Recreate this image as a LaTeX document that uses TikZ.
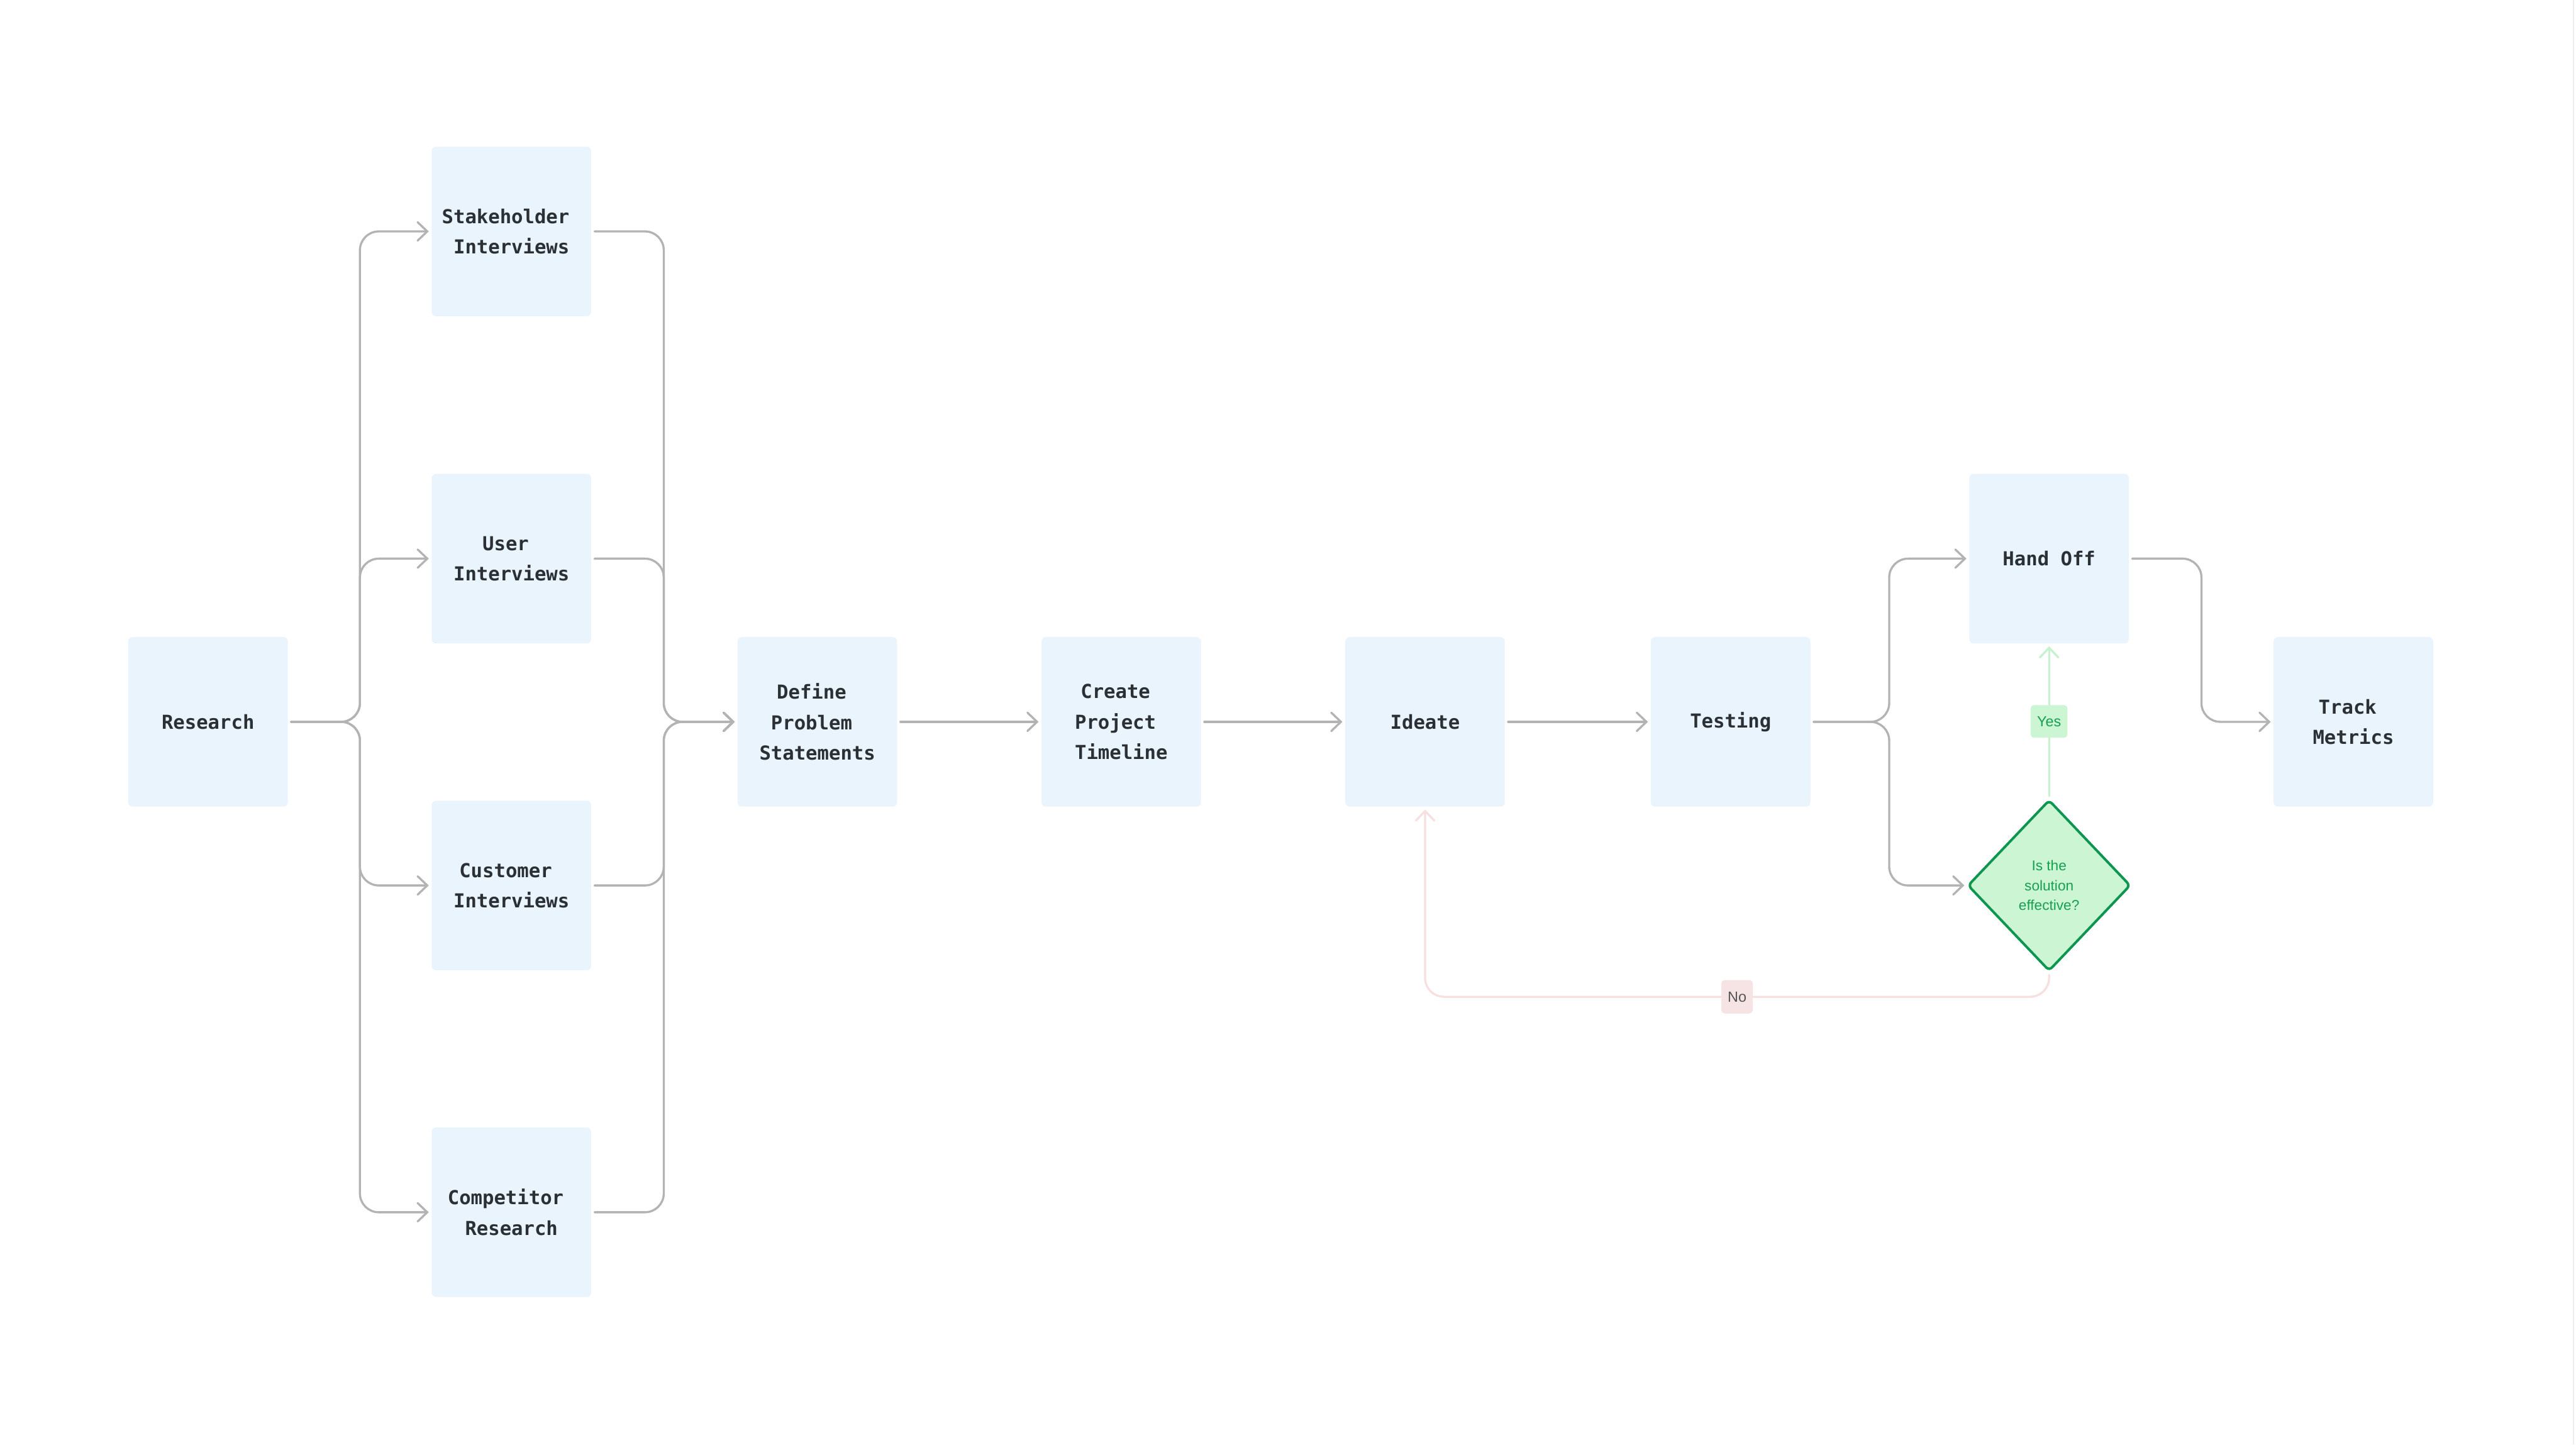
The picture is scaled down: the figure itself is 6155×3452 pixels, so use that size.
\documentclass[tikz,border=0pt]{standalone}
\usepackage{fontspec}
\setmonofont{DejaVu Sans Mono}
\setsansfont{Liberation Sans}
\usetikzlibrary{arrows.meta,shapes.geometric,calc}
\definecolor{boxfill}{HTML}{EAF4FD}
\definecolor{boxtext}{HTML}{2B3035}
\definecolor{connc}{HTML}{B3B3B3}
\definecolor{yesline}{HTML}{C6F2CE}
\definecolor{yesfill}{HTML}{CCF5D4}
\definecolor{yestext}{HTML}{16A050}
\definecolor{diadraw}{HTML}{0E9650}
\definecolor{noline}{HTML}{F6E0E0}
\definecolor{nofill}{HTML}{F6E4E4}
\definecolor{notext}{HTML}{555555}
\newcommand\trsp{\hphantom{x}}
\begin{document}
\begin{tikzpicture}[x=0.1pt,y=-0.1pt,
  procbox/.style={fill=boxfill, rounded corners=1pt, minimum width=38.1pt, minimum height=40.5pt,
    inner sep=0pt, align=center, text=boxtext,
    font=\ttfamily\bfseries\fontsize{4.6}{7.3}\selectfont},
  tip/.style={-{Straight Barb[length=2.3pt,width=4.4pt,line cap=round]}},
  conn/.style={draw=connc, line width=0.5pt, rounded corners=4.5pt, line cap=round,
    shorten <=0.6pt, shorten >=0.5pt, tip},
  yesconn/.style={conn, draw=yesline},
  noconn/.style={conn, draw=noline},
  lab/.style={rounded corners=0.8pt, inner sep=0pt, font=\sffamily\fontsize{3.5}{4.2}\selectfont},
  yeslab/.style={lab, fill=yesfill, text=yestext, minimum width=8.8pt, minimum height=7.8pt},
  nolab/.style={lab, fill=nofill, text=notext, minimum width=7.5pt, minimum height=8pt},
  decision/.style={diamond, draw=diadraw, fill=yesfill, line width=0.6pt, rounded corners=1pt,
    minimum width=38.9pt, minimum height=40.9pt, inner sep=0pt, align=center, text=yestext,
    font=\sffamily\fontsize{3.4}{4.7}\selectfont}
]
\path[use as bounding box, fill=white] (0,0) rectangle (6155,3452);
\draw[draw=black!7, line width=0.3pt] (6149,0) -- (6149,3452);

\node[procbox] (res) at (497,1725) {Research};
\node[procbox] (stake) at (1222,553) {Stakeholder\trsp\\Interviews};
\node[procbox] (user) at (1222,1335) {User\trsp\\Interviews};
\node[procbox] (cust) at (1222,2116) {Customer\trsp\\Interviews};
\node[procbox] (comp) at (1222,2897) {Competitor\trsp\\Research};
\node[procbox] (def) at (1953,1725) {Define\trsp\\Problem\trsp\\Statements};
\node[procbox] (create) at (2679,1725) {Create\trsp\\Project\trsp\\Timeline};
\node[procbox] (ideate) at (3405,1725) {Ideate};
\node[procbox] (test) at (4135,1725) {Testing};
\node[procbox] (hand) at (4896,1335) {Hand Off};
\node[decision] (dia) at (4896,2116) {Is the\\solution\\effective?};
\node[procbox] (track) at (5623,1725) {Track\trsp\\Metrics};

\coordinate (bus1) at (860,1725);
\coordinate (bus2) at (1586,1725);
\coordinate (bus3) at (4514,1725);
\coordinate (bus4) at (5260,1725);
\coordinate (noy) at (0,2382);

\draw[conn] (res.east) -- (bus1) |- (stake.west);
\draw[conn] (res.east) -- (bus1) |- (user.west);
\draw[conn] (res.east) -- (bus1) |- (cust.west);
\draw[conn] (res.east) -- (bus1) |- (comp.west);

\draw[conn] (stake.east) -| (bus2) -- (def.west);
\draw[conn] (user.east) -| (bus2) -- (def.west);
\draw[conn] (cust.east) -| (bus2) -- (def.west);
\draw[conn] (comp.east) -| (bus2) -- (def.west);

\draw[conn] (def.east) -- (create.west);
\draw[conn] (create.east) -- (ideate.west);
\draw[conn] (ideate.east) -- (test.west);

\draw[conn] (test.east) -- (bus3) |- (hand.west);
\draw[conn] (test.east) -- (bus3) |- (dia.west);

\draw[conn] (hand.east) -| (bus4) -- (track.west);

\draw[yesconn] (dia.north) -- node[yeslab] {Yes} (hand.south);
\draw[noconn] (dia.south) -- (dia.south |- noy) -| node[nolab, pos=0.25] {No} (ideate.south);
\end{tikzpicture}
\end{document}
